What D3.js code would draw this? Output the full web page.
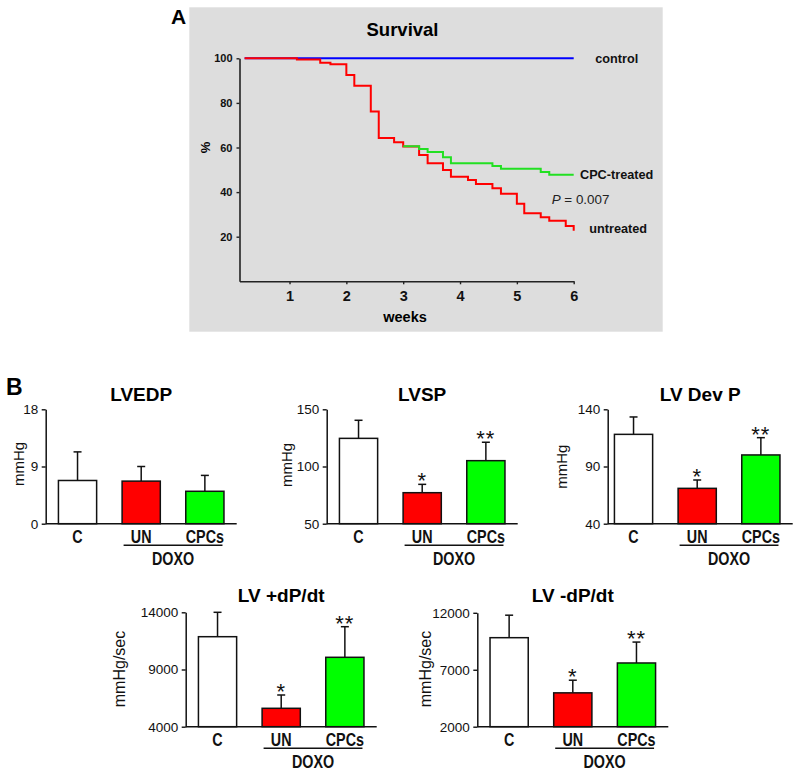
<!DOCTYPE html>
<html><head><meta charset="utf-8">
<script src="https://cdn.jsdelivr.net/npm/d3@7"></script>
<style>body{margin:0;background:#fff} svg{display:block}</style>
</head><body><svg id="c" width="800" height="775"></svg>
<script>
// ---------- DATA ----------
const weekTicks = [1, 2, 3, 4, 5, 6];
const pctTicks = [20, 40, 60, 80, 100];
const controlWeeks = [0.21, 6.0];
const controlPct = [100, 100];
const untreatedWeeks = [0.21, 1.13, 1.54, 1.72, 2.0, 2.14, 2.43, 2.57, 2.84, 3.0, 3.28, 3.43, 3.70, 3.84, 4.14, 4.28, 4.57, 4.72, 5.0, 5.13, 5.42, 5.57, 5.86, 6.0];
const untreatedPct = [100, 99.5, 98.0, 97.3, 92.5, 87.7, 76.1, 64.3, 62.3, 60.4, 56.6, 52.9, 49.9, 46.9, 45.4, 43.6, 41.7, 39.3, 34.8, 30.5, 28.7, 27.2, 24.8, 22.7];
const cpcWeeks = [3.0, 3.28, 3.43, 3.70, 3.84, 4.57, 4.72, 5.42, 5.57, 6.0];
const cpcPct = [60.6, 59.3, 58.0, 55.6, 52.9, 51.7, 50.5, 49.0, 47.8, 47.8];
const seriesNames = ["control", "CPC-treated", "untreated"];
const pValueText = "0.007";

const categories = ["C", "UN", "CPCs"];
const groupLabel = "DOXO";
const panelTitles = ["LVEDP", "LVSP", "LV Dev P", "LV +dP/dt", "LV -dP/dt"];
const panelUnits = ["mmHg", "mmHg", "mmHg", "mmHg/sec", "mmHg/sec"];
const panelDomains = [[0, 18], [50, 150], [40, 140], [4000, 14000], [2000, 12000]];
const panelTicks = [[0, 9, 18], [50, 100, 150], [40, 90, 140], [4000, 9000, 14000], [2000, 7000, 12000]];
const panelMeans = [[6.8, 6.7, 5.1], [124.6, 77.1, 105.1], [118.1, 70.9, 100.1], [11867, 5608, 10066], [9815, 4972, 7594]];
const panelErrors = [[4.5, 2.3, 2.5], [15.8, 7.3, 16.1], [15.2, 7.3, 15.1], [2133, 1163, 2675], [1975, 1110, 1836]];
const panelStars = [["", "", ""], ["", "*", "**"], ["", "*", "**"], ["", "*", "**"], ["", "*", "**"]];

// ---------- STYLE / LAYOUT ----------
const barFills = ["#ffffff", "#ff0000", "#00ff00"];
const SANS = "'Liberation Sans', Arial, Helvetica, sans-serif";
const svg = d3.select("#c");

// ---------- PANEL A ----------
svg.append("rect").attr("x", 189.3).attr("y", 7.3).attr("width", 473.4).attr("height", 324.4).attr("fill", "#dddddd");
svg.append("text").attr("x", 171).attr("y", 23.5).text("A")
  .style("font-family", SANS).style("font-weight", "bold").style("font-size", "21px");
svg.append("text").attr("x", 402.5).attr("y", 36).attr("text-anchor", "middle").text("Survival")
  .style("font-family", SANS).style("font-weight", "bold").style("font-size", "18.5px");

const xS = d3.scaleLinear().domain([0.12, 6]).range([239.5, 573.7]);
const yS = d3.scaleLinear().domain([0, 100]).range([281.3, 58.3]);

const gy = svg.append("g").attr("transform", "translate(239.5,0)")
  .call(d3.axisLeft(yS).tickValues(pctTicks).tickFormat(d3.format("d")).tickSize(3).tickSizeOuter(0).tickPadding(4));
gy.select(".domain").attr("stroke", "#222").attr("stroke-width", 1.6);
gy.selectAll(".tick line").attr("stroke", "#222").attr("stroke-width", 1.4);
gy.selectAll(".tick text").style("font-family", SANS).style("font-weight", "bold").style("font-size", "11px").attr("fill", "#111");

const gx = svg.append("g").attr("transform", "translate(0,281.3)")
  .call(d3.axisBottom(xS).tickValues(weekTicks).tickFormat(d3.format("d")).tickSize(3).tickSizeOuter(0).tickPadding(6));
gx.select(".domain").attr("stroke", "#222").attr("stroke-width", 1.6);
gx.selectAll(".tick line").attr("stroke", "#222").attr("stroke-width", 1.4);
gx.selectAll(".tick text").style("font-family", SANS).style("font-weight", "bold").style("font-size", "14.5px").attr("fill", "#111");

svg.append("text").attr("x", 405).attr("y", 321.5).attr("text-anchor", "middle").text("weeks")
  .style("font-family", SANS).style("font-weight", "bold").style("font-size", "14.5px");
svg.append("text").attr("transform", "translate(210,147.5) rotate(-90)").attr("text-anchor", "middle").text("%")
  .style("font-family", SANS).style("font-weight", "bold").style("font-size", "13px");

const stepLine = d3.line().x(d => xS(d[0])).y(d => yS(d[1])).curve(d3.curveStepAfter);
function drawSeries(w, p, color) {
  svg.append("path").datum(w.map((v, i) => [v, p[i]])).attr("d", stepLine)
    .attr("fill", "none").attr("stroke", color).attr("stroke-width", 2);
}
drawSeries(controlWeeks, controlPct, "#0000ff");
drawSeries(untreatedWeeks, untreatedPct, "#ff0000");
drawSeries(cpcWeeks, cpcPct, "#22e022");

const lblStyle = s => s.style("font-family", SANS).style("font-weight", "bold").style("font-size", "12.7px").attr("fill", "#111");
svg.append("text").attr("x", 595.3).attr("y", 62.5).text(seriesNames[0]).call(lblStyle);
svg.append("text").attr("x", 580).attr("y", 179).text(seriesNames[1]).call(lblStyle);
svg.append("text").attr("x", 589.3).attr("y", 233).text(seriesNames[2]).call(lblStyle);
const pt = svg.append("text").attr("x", 551.7).attr("y", 204)
  .style("font-family", SANS).style("font-size", "13.4px").attr("fill", "#222");
pt.append("tspan").style("font-style", "italic").text("P");
pt.append("tspan").text(" = " + pValueText);

// ---------- PANEL B ----------
svg.append("text").attr("x", 6).attr("y", 395).text("B")
  .style("font-family", SANS).style("font-weight", "bold").style("font-size", "23px");

const panelLayout = [
  { axisX: 45.7, bandX: 45.7, top: 409.3, bottom: 523.7, unitX: 18.3, unitY: 464, titleY: 401 },
  { axisX: 326.7, bandX: 326.7, top: 409.3, bottom: 523.7, unitX: 286.7, unitY: 465, titleY: 401 },
  { axisX: 607.7, bandX: 601.7, top: 409.3, bottom: 523.7, unitX: 561.7, unitY: 466.7, titleY: 401 },
  { axisX: 185.7, bandX: 185.7, top: 612.3, bottom: 726.7, unitX: 119.5, unitY: 669, titleY: 601.7 },
  { axisX: 477.3, bandX: 477.3, top: 612.8, bottom: 726.7, unitX: 425.3, unitY: 669, titleY: 601.7 }
];
const bandW = 191;

function narrowText(g, x, y, txt) {
  g.append("text").attr("transform", `translate(${x},${y}) scale(0.82,1)`).attr("text-anchor", "middle").text(txt)
    .style("font-family", SANS).style("font-weight", "bold").style("font-size", "17.5px").attr("fill", "#111");
}

panelTitles.forEach((title, pi) => {
  const L = panelLayout[pi];
  const g = svg.append("g");
  const y = d3.scaleLinear().domain(panelDomains[pi]).range([L.bottom, L.top]);
  const x = d3.scaleBand().domain(categories).range([L.bandX, L.bandX + bandW]).paddingInner(0.4).paddingOuter(0.2);
  const bw = x.bandwidth();

  g.append("text").attr("x", L.axisX + (L.bandX + bandW - L.axisX) / 2).attr("y", L.titleY).attr("text-anchor", "middle").text(title)
    .style("font-family", SANS).style("font-weight", "bold").style("font-size", "19px");
  g.append("text").attr("transform", `translate(${L.unitX},${L.unitY}) rotate(-90)`)
    .attr("text-anchor", "middle").attr("dy", "0.35em").text(panelUnits[pi])
    .style("font-family", SANS).style("font-size", pi >= 3 ? "16px" : "15px").attr("fill", "#111");

  const means = panelMeans[pi], errs = panelErrors[pi];
  categories.forEach((c, ci) => {
    const x0 = x(c), cx = x0 + bw / 2;
    const yTop = y(means[ci]), yErr = y(means[ci] + errs[ci]);
    g.append("line").attr("x1", cx).attr("x2", cx).attr("y1", yTop).attr("y2", yErr).attr("stroke", "#111").attr("stroke-width", 1.5);
    g.append("line").attr("x1", cx - 4).attr("x2", cx + 4).attr("y1", yErr).attr("y2", yErr).attr("stroke", "#111").attr("stroke-width", 1.5);
    g.append("rect").attr("x", x0).attr("y", yTop).attr("width", bw).attr("height", L.bottom - yTop)
      .attr("fill", barFills[ci]).attr("stroke", "#111").attr("stroke-width", 1.5);
    const st = panelStars[pi][ci];
    if (st) {
      g.append("text").attr("x", cx).attr("y", yErr + 4).attr("text-anchor", "middle").text(st)
        .style("font-family", SANS).style("font-size", "22px").style("letter-spacing", "1px").attr("fill", "#111");
    }
    narrowText(g, cx, L.bottom + 19, c);
  });

  const ga = g.append("g").attr("transform", `translate(${L.axisX},0)`)
    .call(d3.axisLeft(y).tickValues(panelTicks[pi]).tickFormat(d3.format("d")).tickSize(4).tickSizeOuter(0).tickPadding(3.5));
  ga.select(".domain").attr("stroke", "#111").attr("stroke-width", 1.5);
  ga.selectAll(".tick line").attr("stroke", "#111").attr("stroke-width", 1.4);
  ga.selectAll(".tick text").style("font-family", SANS).style("font-size", "13.5px").attr("fill", "#111");
  g.append("line").attr("x1", L.axisX).attr("x2", L.bandX + bandW).attr("y1", L.bottom).attr("y2", L.bottom)
    .attr("stroke", "#111").attr("stroke-width", 1.5);

  const gx0 = x("UN") + 1.5, gx1 = x("CPCs") + bw - 1.5;
  g.append("line").attr("x1", gx0).attr("x2", gx1).attr("y1", L.bottom + 21.5).attr("y2", L.bottom + 21.5)
    .attr("stroke", "#111").attr("stroke-width", 1.4);
  narrowText(g, (gx0 + gx1) / 2, L.bottom + 41.5, groupLabel);
});
</script></body></html>
